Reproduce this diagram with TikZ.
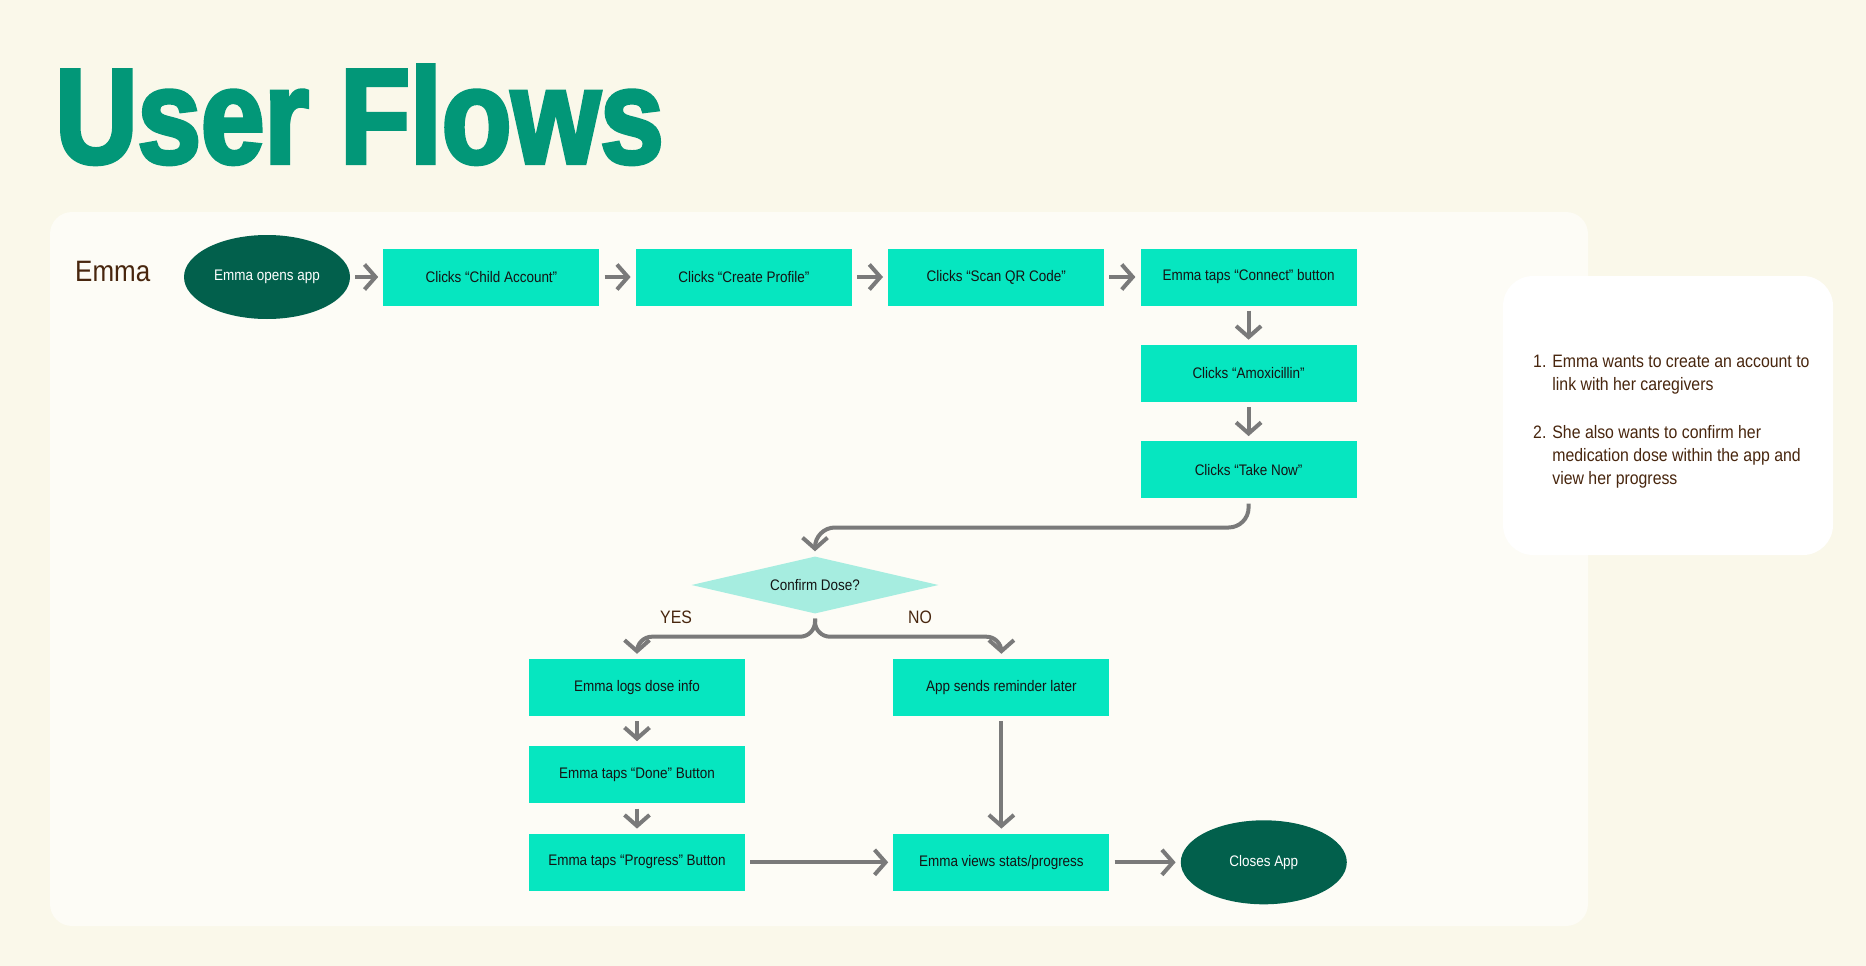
\documentclass[tikz,border=0pt]{standalone}
\usepackage{fontspec}
\setmainfont{Liberation Sans}[FakeStretch=0.88]
\newfontfamily\titlefont{Liberation Sans}[FakeStretch=0.845,BoldFeatures={FakeBold=3}]
\usepackage{xcolor}
\usepackage{tikz}
\usetikzlibrary{shapes.geometric, arrows.meta, positioning}
\definecolor{pagecream}{RGB}{250,248,234}
\definecolor{panelcream}{RGB}{253,252,246}
\definecolor{flowteal}{RGB}{6,230,192}
\definecolor{darkgreen}{RGB}{2,96,76}
\definecolor{titlegreen}{RGB}{2,151,120}
\definecolor{palemint}{RGB}{166,237,224}
\definecolor{linegray}{RGB}{122,122,122}
\definecolor{inkbrown}{RGB}{72,38,14}
\definecolor{inkblack}{RGB}{20,20,20}
\tikzstyle{block} = [rectangle, minimum width=216pt, minimum height=57pt, inner sep=0pt, text centered, fill=flowteal, text=inkblack, font=\fontsize{15.3}{18}\selectfont]
\tikzstyle{terminal} = [ellipse, minimum width=166pt, minimum height=84pt, inner sep=0pt, text centered, fill=darkgreen, text=white, font=\fontsize{15.3}{18}\selectfont]
\tikzstyle{decision} = [diamond, aspect=4.3, minimum width=247pt, minimum height=57pt, inner sep=0pt, text centered, fill=palemint, text=inkblack, font=\fontsize{15.3}{18}\selectfont]
\tikzstyle{branch} = [anchor=base west, inner sep=0pt, text=inkbrown, font=\fontsize{18}{22}\selectfont]
\tikzstyle{arrow} = [line width=4pt, draw=linegray, -{Straight Barb[length=11pt, width=25pt]}, shorten <=5pt, shorten >=5pt]

\begin{document}
\begin{tikzpicture}[x=1pt, y=-1pt, node distance=39pt and 36pt]
    \useasboundingbox (0,0) rectangle (1866,966);
    \fill[pagecream] (0,0) rectangle (1866,966);
    \fill[panelcream, rounded corners=22pt] (50,212) rectangle (1588,926);
    \fill[white, rounded corners=30pt] (1503,276) rectangle (1833,555);

    \node[anchor=base west, inner sep=0pt, text=titlegreen, font=\titlefont\bfseries\fontsize{135}{135}\selectfont] (title) at (55,163) {User Flows};
    \node[anchor=base west, inner sep=0pt, text=inkbrown, font=\fontsize{29.5}{32}\selectfont] (persona) at (75,281) {Emma};

    % onboarding row
    \node[terminal] (open) at (267,277) {Emma opens app};
    \node[block, right=33pt of open] (child) {Clicks “Child Account”};
    \node[block, right=of child] (profile) {Clicks “Create Profile”};
    \node[block, right=of profile] (scan) {Clicks “Scan QR Code”};
    \node[block, right=of scan] (connect) {Emma taps “Connect” button};
    \node[block, below=of connect] (amox) {Clicks “Amoxicillin”};
    \node[block, below=of amox] (takenow) {Clicks “Take Now”};

    % dose branch
    \node[decision] (confirm) at (815,585) {Confirm Dose?};
    \node[branch] (yes) at (660,623) {YES};
    \node[branch] (no) at (908,623) {NO};
    \node[block] (logs) at (637,687.5) {Emma logs dose info};
    \node[block, right=148pt of logs] (reminder) {App sends reminder later};
    \node[block, below=30pt of logs] (done) {Emma taps “Done” Button};
    \node[block, below=30pt of done] (progress) {Emma taps “Progress” Button};
    \node[block, right=148pt of progress] (stats) {Emma views stats/progress};
    \node[terminal, right=71pt of stats] (closes) {Closes App};

    % goals
    \node[anchor=base west, inner sep=0pt, text=inkbrown, font=\fontsize{18}{23}\selectfont] (goals) at (1533,367) {%
      \begin{tabular}[t]{@{}l@{\hspace{6pt}}l@{}}
        1. & Emma wants to create an account to\\
           & link with her caregivers\\[25pt]
        2. & She also wants to confirm her\\
           & medication dose within the app and\\
           & view her progress
      \end{tabular}};

    \draw[arrow] (open) -- (child);
    \draw[arrow] (child) -- (profile);
    \draw[arrow] (profile) -- (scan);
    \draw[arrow] (scan) -- (connect);
    \draw[arrow] (connect) -- (amox);
    \draw[arrow] (amox) -- (takenow);
    \draw[arrow, rounded corners=20pt] (takenow.south) -- ++(0,29) -| (confirm.north);
    \draw[arrow, rounded corners=15pt] (confirm.south) -- ++(0,23) -| (logs.north);
    \draw[arrow, rounded corners=15pt] (confirm.south) -- ++(0,23) -| (reminder.north);
    \draw[arrow] (logs) -- (done);
    \draw[arrow] (done) -- (progress);
    \draw[arrow] (progress) -- (stats);
    \draw[arrow] (reminder) -- (stats);
    \draw[arrow] (stats) -- (closes);
\end{tikzpicture}
\end{document}
